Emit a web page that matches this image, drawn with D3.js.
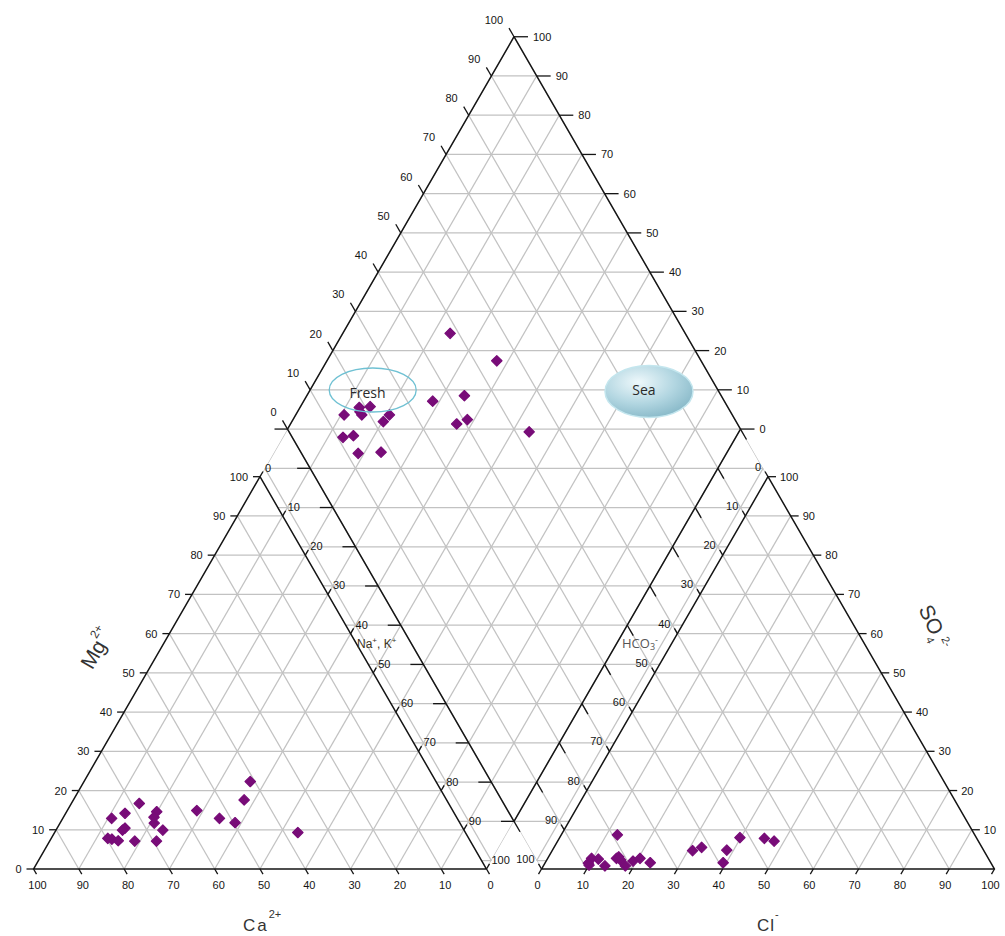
<!DOCTYPE html>
<html><head><meta charset="utf-8">
<script src="https://cdn.jsdelivr.net/npm/d3@7"></script>
<style>body{margin:0;background:#fff}svg{display:block}</style>
</head><body><svg id="c" width="1005" height="936"></svg>
<script>
// ---------------- data ----------------
const tickValues = [0,10,20,30,40,50,60,70,80,90,100];
// cation triangle: Na+ + K+ (%) and Mg2+ (%)   (Ca2+ = 100 - both)
const cationNaK = [10.8,13.1,15.0,19.9,20.8,23.6,15.0,13.5,15.1,18.8,23.6,28.6,34.6,38.6,37.7,36.7,53.7,20.0,14.7,12.5];
const cationMg  = [12.9,14.2,16.7,14.6,11.7, 9.9,10.4, 7.6, 7.2, 7.1, 7.1,14.9,12.9,11.8,17.6,22.3, 9.3,13.2, 9.9, 7.8];
// anion triangle: Cl- (%) and SO4 2- (%)   (HCO3- = 100 - both)
const anionCl  = [12.4,9.7,11.3,9.6,13.6,15.2,16.3,18.1,19.2,20.4,23.2,31.0,32.6,38.5,39.3,39.8,45.3,47.8,15.5,10.0];
const anionSO4 = [ 8.7,2.7, 2.5,1.5, 0.8, 2.7, 2.3, 0.8, 2.0, 2.7, 1.6, 4.7, 5.5, 4.8, 1.6, 8.0, 7.8, 7.1, 3.1, 1.0];
// diamond: Na+ + K+ (%) and Cl- + SO4 2- (%)
const diamondNaK   = [23.7,37.5,34.8,28.5,13.1,15.4,14.6,10.7,20.7,20.2,36.7,38.5,53.7,13.3,15.4,18.7,23.6,13.8];
const diamondClSO4 = [48.1,54.9,43.3,35.6,18.6,21.1,18.2,14.3,24.3,22.1,38.0,40.9,53.0,11.2,13.7,12.5,17.7,18.2];

// ---------------- geometry ----------------
const x0=33.5, S=453, G=55, BASE=869, R3=Math.sqrt(3)/2, H=S*R3;
const x1=x0+S+G;
const sxL = d3.scaleLinear().domain([0,100]).range([x0,x0+S]);
const sxR = d3.scaleLinear().domain([0,100]).range([x1,x1+S]);
const sh  = d3.scaleLinear().domain([0,100]).range([0,H]);
const cat = (n,m)=>[sxL(n+m/2), BASE-sh(m)];
const ani = (c,s)=>[sxR(c+s/2), BASE-sh(s)];
const dia = (n,a)=>{const p1=sxL(n),p2=sxR(a),t=p2-p1;return [(p1+p2)/2, BASE-t*R3];};

const svg = d3.select("#c");
const FONT = "'Liberation Sans', Arial, sans-serif";
const GRID = "#c2c2c2", EDGE = "#151515";

const defs = svg.append("defs");
const L=dia(0,0), T=dia(0,100), Rv=dia(100,100), B=dia(100,0);
const A1=cat(0,100), A2=ani(0,100);
defs.append("clipPath").attr("id","dclip").append("polygon")
  .attr("points",[L,T,Rv,A2,[x1,BASE],B,[x0+S,BASE],A1].map(p=>p.join(",")).join(" "));
const grad = defs.append("radialGradient").attr("id","seaG").attr("cx","38%").attr("cy","32%").attr("r","75%");
grad.append("stop").attr("offset","0%").attr("stop-color","#eef8fb");
grad.append("stop").attr("offset","55%").attr("stop-color","#b2d6e1");
grad.append("stop").attr("offset","100%").attr("stop-color","#84b6c6");

const gGrid = svg.append("g").attr("stroke",GRID).attr("stroke-width",1.25).attr("fill","none");
function seg(g,p,q){g.append("line").attr("x1",p[0]).attr("y1",p[1]).attr("x2",q[0]).attr("y2",q[1]);}

// triangle grids
tickValues.slice(1,10).forEach(v=>{
  seg(gGrid, cat(0,v), cat(100-v,v));
  seg(gGrid, cat(v,0), cat(v,100-v));
  seg(gGrid, cat(v,0), cat(0,v));
  seg(gGrid, ani(0,v), ani(100-v,v));
  seg(gGrid, ani(v,0), ani(v,100-v));
  seg(gGrid, ani(v,0), ani(0,v));
});
// diamond lattice (extended into the bands, clipped)
const gD = gGrid.append("g").attr("clip-path","url(#dclip)");
d3.range(-30,131,10).forEach(v=>{
  seg(gD, dia(v,-40), dia(v,140));
  seg(gD, dia(-40,v), dia(140,v));
});
d3.range(-12,13).forEach(k=>{
  const y = L[1]-k*H/10;
  gD.append("line").attr("x1",200).attr("x2",800).attr("y1",y).attr("y2",y);
});

// edges
const gE = svg.append("g").attr("stroke",EDGE).attr("stroke-width",1.5).attr("fill","none").attr("stroke-linejoin","round");
gE.append("polygon").attr("points",[cat(0,0),cat(100,0),cat(0,100)].map(p=>p.join(",")).join(" "));
gE.append("polygon").attr("points",[ani(0,0),ani(100,0),ani(0,100)].map(p=>p.join(",")).join(" "));
gE.append("polygon").attr("points",[L,T,Rv,B].map(p=>p.join(",")).join(" "));

// ticks + labels
const gT = svg.append("g").attr("stroke",EDGE).attr("stroke-width",1.3);
const gL = svg.append("g").attr("font-family",FONT).attr("font-size",11).attr("fill","#151515");
function tk(p,dx,dy){seg(gT,p,[p[0]+dx,p[1]+dy]);}
function lab(x,y,t,anchor){gL.append("text").attr("x",x).attr("y",y).attr("text-anchor",anchor).text(t);}
const ux=0.5, uy=R3;
tickValues.forEach(v=>{
  let p=cat(0,v); tk(p,-7,0); lab(p[0]-12,p[1]+4,v,"end");
  p=cat(100-v,0); tk(p,ux*6,uy*6); lab(p[0]+4,889,v,"middle");
  p=cat(v,100-v); tk(p,ux*6,-uy*6); lab(p[0]+5,p[1]-5,v,"start");
  p=ani(0,100-v); tk(p,-ux*6,-uy*6); lab(p[0]-7,p[1]-6,v,"end");
  p=ani(v,0); tk(p,-ux*6,uy*6); lab(p[0]-4,889,v,"middle");
  if(v>0){p=ani(100-v,v); tk(p,8,0); lab(p[0]+12,p[1]+4,v,"start");}
  p=dia(0,v); tk(p,-ux*10,-uy*10); lab(p[0]-11,p[1]-13,v,"end");
  p=dia(v,100); tk(p,14,0); lab(p[0]+19,p[1]+4,100-v,"start");
  p=dia(v,0); tk(p,-13,0);
  p=dia(100,v); tk(p,ux*12,uy*12);
});

// zones
svg.append("ellipse").attr("cx",649).attr("cy",391.5).attr("rx",44).attr("ry",26)
  .attr("fill","url(#seaG)").attr("stroke","#c4e6ee").attr("stroke-width",1.5);
svg.append("text").attr("x",644).attr("y",394.5).attr("text-anchor","middle")
  .attr("font-family","'Open Sans', sans-serif").attr("font-size",14).attr("fill","#2a2a2a").text("Sea");

// points
const sym = d3.symbol().type(d3.symbolSquare).size(54)();
const purple = "#780c78";
const gP = svg.append("g").attr("fill",purple).attr("stroke",purple).attr("stroke-width",1.2).attr("stroke-linejoin","round");
cationNaK.forEach((n,i)=>{const p=cat(n,cationMg[i]);
  gP.append("path").attr("d",sym).attr("transform",`translate(${p[0]},${p[1]}) rotate(45)`);});
anionCl.forEach((c,i)=>{const p=ani(c,anionSO4[i]);
  gP.append("path").attr("d",sym).attr("transform",`translate(${p[0]},${p[1]}) rotate(45)`);});
diamondNaK.forEach((n,i)=>{const p=dia(n,diamondClSO4[i]);
  gP.append("path").attr("d",sym).attr("transform",`translate(${p[0]},${p[1]}) rotate(45)`);});

svg.append("ellipse").attr("cx",372.7).attr("cy",390).attr("rx",43.5).attr("ry",22)
  .attr("fill","none").attr("stroke","#6fc1d3").attr("stroke-width",1.3);
svg.append("text").attr("x",367.5).attr("y",398).attr("text-anchor","middle")
  .attr("font-family","'Open Sans', sans-serif").attr("font-size",14).attr("fill","#2a2a2a").text("Fresh");

// axis titles
const ca = svg.append("text").attr("x",243).attr("y",931).attr("font-family",FONT).attr("font-size",17)
  .attr("letter-spacing",2).attr("fill","#333");
ca.append("tspan").text("Ca");
ca.append("tspan").attr("font-size",11).attr("dy",-13).attr("letter-spacing",0).text("2+");
const cl = svg.append("text").attr("x",757).attr("y",931).attr("font-family",FONT).attr("font-size",17)
  .attr("letter-spacing",1).attr("fill","#333");
cl.append("tspan").text("Cl");
cl.append("tspan").attr("font-size",11).attr("dy",-13).text("-");

const mg = svg.append("text").attr("transform","translate(103,652) rotate(-60)").attr("text-anchor","middle")
  .attr("font-family",FONT).attr("font-size",21).attr("fill","#333");
mg.append("tspan").text("Mg");
mg.append("tspan").attr("font-size",12).attr("dy",-12).text("2+");

const so = svg.append("text").attr("transform","translate(928,630) rotate(65)").attr("text-anchor","middle")
  .attr("font-family",FONT).attr("font-size",21).attr("fill","#333");
so.append("tspan").text("SO");
so.append("tspan").attr("font-size",11).attr("dy",6).text("4");
so.append("tspan").attr("font-size",11).attr("dy",-14).text("2-");

const na = svg.append("text").attr("x",357).attr("y",648).attr("font-family",FONT).attr("font-size",12).attr("fill","#3b3322");
na.append("tspan").text("Na");
na.append("tspan").attr("font-size",8).attr("dy",-5).text("+");
na.append("tspan").attr("dy",5).text(", K");
na.append("tspan").attr("font-size",8).attr("dy",-5).text("+");

const hc = svg.append("text").attr("x",622).attr("y",648).attr("font-family","'Open Sans', sans-serif").attr("font-size",13).attr("fill","#555");
hc.append("tspan").text("HCO");
hc.append("tspan").attr("font-size",9).attr("dy",2).text("3");
hc.append("tspan").attr("font-size",9).attr("dy",-7).text("-");
</script></body></html>
